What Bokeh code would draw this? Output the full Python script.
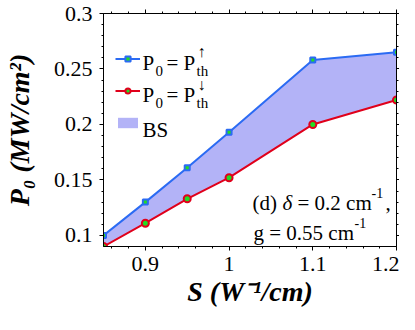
from bokeh.plotting import figure
from bokeh.models import Range1d, FixedTicker, LinearAxis, Label, Legend, LegendItem
from bokeh.embed import file_html
from bokeh.resources import INLINE

# ---- data ----
S = [0.85, 0.9, 0.95, 1.0, 1.1, 1.2]
P_up = [0.100, 0.130, 0.161, 0.193, 0.258, 0.265]
P_down = [0.090, 0.111, 0.133, 0.152, 0.200, 0.222]

x_ticks = [0.9, 1.0, 1.1, 1.2]
x_tick_labels = ["0.9", "1", "1.1", "1.2"]
y_ticks = [0.1, 0.15, 0.2, 0.25, 0.3]
y_tick_labels = ["0.1", "0.15", "0.2", "0.25", "0.3"]
x_minor = [0.86, 0.88, 0.92, 0.94, 0.96, 0.98, 1.02, 1.04, 1.06, 1.08,
           1.12, 1.14, 1.16, 1.18]
y_minor = [0.11, 0.12, 0.13, 0.14, 0.16, 0.17, 0.18, 0.19, 0.21, 0.22,
           0.23, 0.24, 0.26, 0.27, 0.28, 0.29]

x_title = "S (W\u207b\u00b9/cm)"
y_title = "P\u2080 (MW/cm\u00b2)"

BLUE = "#2B6BF3"
RED = "#E0001B"
FILL = "#B3B3F7"
GREEN = "#22DD22"
FONT = "Liberation Serif"
AXFONT = "Times New Roman"

p = figure(width=399, height=314, x_range=Range1d(0.85, 1.2),
           y_range=Range1d(0.09, 0.3), output_backend="svg",
           toolbar_location=None, min_border_left=103, min_border_right=3,
           min_border_top=13, min_border_bottom=68)
p.grid.visible = False
p.outline_line_color = "black"
p.outline_line_width = 1
p.background_fill_color = "white"

band = p.varea(x=S, y1=P_down, y2=P_up, fill_color=FILL, fill_alpha=1.0)
l_up = p.line(S, P_up, line_color=BLUE, line_width=2)
m_up = p.scatter(S, P_up, marker="square", size=5, line_color=BLUE,
                 line_width=2, fill_color=GREEN)
l_dn = p.line(S, P_down, line_color=RED, line_width=2)
m_dn = p.scatter(S, P_down, marker="circle", size=7, line_color=RED,
                 line_width=2, fill_color=GREEN)

p.add_layout(LinearAxis(), "above")
p.add_layout(LinearAxis(), "right")

xt = FixedTicker(ticks=x_ticks, minor_ticks=x_minor)
yt = FixedTicker(ticks=y_ticks, minor_ticks=y_minor)
for ax in p.xaxis:
    ax.ticker = xt
    ax.major_label_overrides = {t: s for t, s in zip(x_ticks, x_tick_labels)}
for ax in p.yaxis:
    ax.ticker = yt
    ax.major_label_overrides = {t: s for t, s in zip(y_ticks, y_tick_labels)}

for ax in p.axis:
    ax.axis_line_color = "black"
    ax.axis_line_width = 1
    ax.major_tick_line_color = "black"
    ax.minor_tick_line_color = "black"
    ax.major_tick_in = 0
    ax.major_tick_out = 4
    ax.minor_tick_in = 0
    ax.minor_tick_out = 2
    ax.major_label_text_color = "black"
    ax.major_label_text_font_size = "22px"
    ax.major_label_text_font = AXFONT

for ax, ticks in ((p.above[0], x_ticks), (p.right[0], y_ticks)):
    ax.major_label_overrides = {t: "" for t in ticks}
    ax.major_label_text_font_size = "1px"
    ax.major_label_standoff = 0
p.right[0].major_tick_out = 3

p.below[0].major_label_standoff = 6
p.left[0].major_label_standoff = 7

p.below[0].axis_label = x_title
p.left[0].axis_label = y_title
for ax in (p.below[0], p.left[0]):
    ax.axis_label_text_font = AXFONT
    ax.axis_label_text_font_size = "28px"
    ax.axis_label_text_font_style = "bold italic"
    ax.axis_label_text_color = "black"
p.below[0].axis_label_standoff = 2
p.left[0].axis_label_standoff = 16

# ---- legend swatches ----
legend = Legend(items=[
    LegendItem(label="", renderers=[l_up, m_up]),
    LegendItem(label="", renderers=[l_dn, m_dn]),
    LegendItem(label="", renderers=[band]),
], location=(12, 117), glyph_width=25, glyph_height=13, label_height=13,
    spacing=19, padding=0, margin=0, label_standoff=0, label_width=0,
    border_line_alpha=0, background_fill_alpha=0,
    label_text_font=FONT, label_text_font_size="1px")
p.add_layout(legend, "center")


def txt(text, dx, dy, size="21px", style="normal"):
    # offsets in pixels from the frame's top-left corner
    p.add_layout(Label(x=0.85, y=0.3, x_offset=dx, y_offset=dy,
                       text=text, text_font=FONT, text_font_size=size,
                       text_font_style=style, text_color="black",
                       text_baseline="alphabetic", text_align="left"))


# legend texts
for row, arrow in ((0, "\u2191"), (1, "\u2193")):
    b = 49 + 32.5 * row
    txt("P", 39, -b)
    txt("0", 52, -(b + 8), "15px")
    txt("=", 63, -b)
    txt("P", 80, -b)
    txt("th", 93, -(b + 8), "15px")
    txt(arrow, 94, -(b - 11), "16px")
txt("BS", 39, -116.5)

# annotation
txt("(d)", 149, -189)
txt("\u03b4", 179, -189, style="italic")
txt("= 0.2 cm", 194, -189)
txt("-1", 268, -179, "14px")
txt(",", 282, -189)
txt("g = 0.55 cm", 150, -219)
txt("-1", 251, -209, "14px")

open("out.html", "w").write(file_html(p, INLINE))
